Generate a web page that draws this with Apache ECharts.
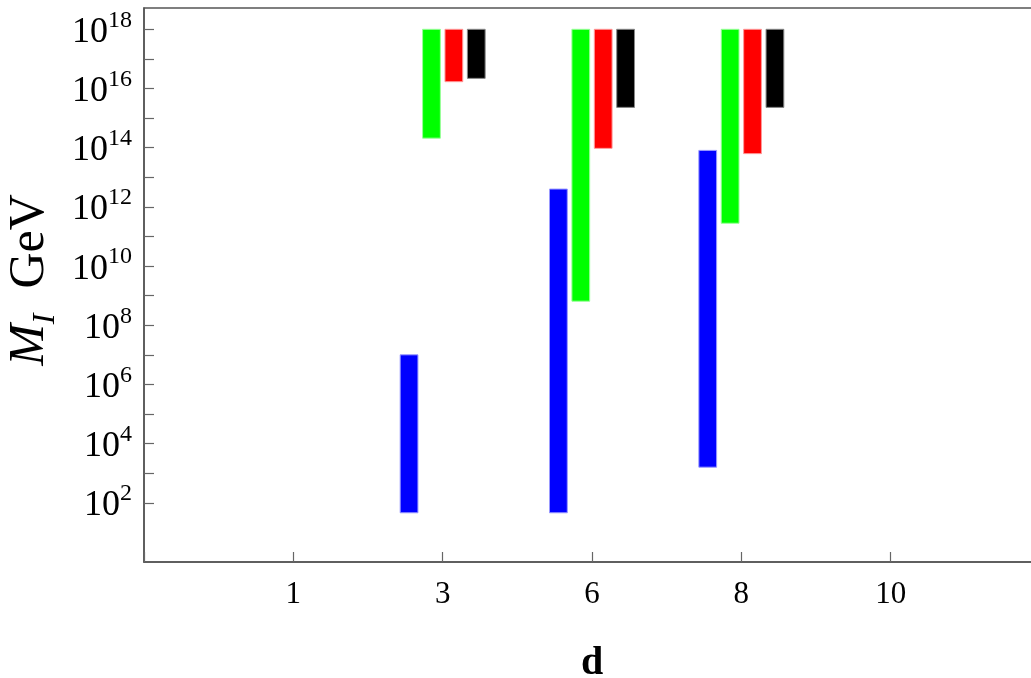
<!DOCTYPE html>
<html><head><meta charset="utf-8">
<script src="https://cdn.jsdelivr.net/npm/echarts@6/dist/echarts.min.js"></script>
<style>html,body{margin:0;padding:0;background:#fff}#c{width:1031px;height:678px}</style>
</head><body><div id="c"></div>
<script>
// x tick labels (axis positions 1..5)
const dLabels = ['1', '3', '6', '8', '10'];
// bar groups sit at d = 3, 6, 8  -> axis positions 2, 3, 4
const groupPos = [2, 3, 4];
// ranges of M_I (GeV), low / high ends of each bar
const blueLow   = [4.6e1, 4.6e1, 1.6e3];
const blueHigh  = [1.0e7, 4.0e12, 8.1e13];
const greenLow  = [2.1e14, 6.5e8, 2.8e11];
const greenHigh = [1e18, 1e18, 1e18];
const redLow    = [1.7e16, 9.5e13, 6.3e13];
const redHigh   = [1e18, 1e18, 1e18];
const blackLow  = [2.2e16, 2.3e15, 2.3e15];
const blackHigh = [1e18, 1e18, 1e18];
// y ticks (decade exponents) and labelled exponents
const yTickExps  = [2, 3, 4, 5, 6, 7, 8, 9, 10, 11, 12, 13, 14, 15, 16, 17, 18];
const yLabelExps = [2, 4, 6, 8, 10, 12, 14, 16, 18];

const SERIF = '"Liberation Serif","DejaVu Serif",serif';

function makeSeries(name, low, high, color, stroke, k) {
  return {
    type: 'custom', name: name,
    data: groupPos.map((p, i) => [p, low[i], high[i]]),
    encode: { x: 0, y: [1, 2] },
    renderItem: function (params, api) {
      const x = api.value(0) + k * 0.15;
      const top = api.coord([x, api.value(2)]);
      const bot = api.coord([x, api.value(1)]);
      const l = api.coord([x - 0.0595, api.value(2)])[0];
      const r = api.coord([x + 0.0595, api.value(2)])[0];
      return {
        type: 'rect',
        shape: { x: l, y: top[1], width: r - l, height: bot[1] - top[1] },
        style: { fill: color, stroke: stroke, lineWidth: 1 }
      };
    }
  };
}

const chart = echarts.init(document.getElementById('c'));
chart.setOption({
  animation: false,
  backgroundColor: '#fff',
  grid: { left: 144, right: -9, top: 8, bottom: 116, outerBoundsMode: 'none', containLabel: false,
          show: true, borderColor: '#555', borderWidth: 1.5 },
  xAxis: {
    type: 'value', min: 0, max: 6, interval: 1,
    splitLine: { show: false },
    axisLine: { lineStyle: { color: '#555', width: 1.5 } },
    axisTick: { inside: true, length: 10, lineStyle: { color: '#666', width: 1.2 } },
    axisLabel: {
      margin: 17, color: '#000', fontFamily: SERIF, fontSize: 31,
      formatter: v => dLabels[v - 1] || ''
    },
    name: 'd', nameLocation: 'middle', nameGap: 82,
    nameTextStyle: { fontFamily: SERIF, fontSize: 40, fontWeight: 'bold', color: '#000' }
  },
  yAxis: {
    type: 'log', logBase: 10, min: 1, max: 5.25e18,
    splitLine: { show: false },
    axisLine: { lineStyle: { color: '#555', width: 1.5 } },
    axisTick: { inside: true, length: 10, lineStyle: { color: '#666', width: 1.2 },
                customValues: yTickExps.map(e => Math.pow(10, e)) },
    axisLabel: {
      margin: 12, color: '#000',
      customValues: yLabelExps.map(e => Math.pow(10, e)),
      formatter: function (v) {
        const e = Math.round(Math.log10(v));
        return '{b|10}{s|' + e + '}';
      },
      rich: {
        b: { fontFamily: SERIF, fontSize: 36, lineHeight: 42, verticalAlign: 'bottom', color: '#000' },
        s: { fontFamily: SERIF, fontSize: 24, lineHeight: 24, verticalAlign: 'top', color: '#000' }
      }
    },
    name: '{m|M}{i|I}{g|  GeV}', nameLocation: 'middle', nameGap: 74,
    nameTextStyle: {
      padding: [0, 0, 0, 10],
      rich: {
        m: { fontFamily: SERIF, fontStyle: 'italic', fontSize: 50, lineHeight: 56, verticalAlign: 'top', color: '#000' },
        i: { fontFamily: SERIF, fontStyle: 'italic', fontSize: 32, lineHeight: 32, verticalAlign: 'bottom', color: '#000' },
        g: { fontFamily: SERIF, fontSize: 50, lineHeight: 56, verticalAlign: 'top', color: '#000' }
      }
    }
  },
  series: [
    makeSeries('blue', blueLow, blueHigh, '#0000ff', '#9999ff', -1.5),
    makeSeries('green', greenLow, greenHigh, '#00ff00', '#99ff99', -0.5),
    makeSeries('red', redLow, redHigh, '#ff0000', '#ff9999', 0.5),
    makeSeries('black', blackLow, blackHigh, '#000000', '#888888', 1.5)
  ]
});
</script>
</body></html>
